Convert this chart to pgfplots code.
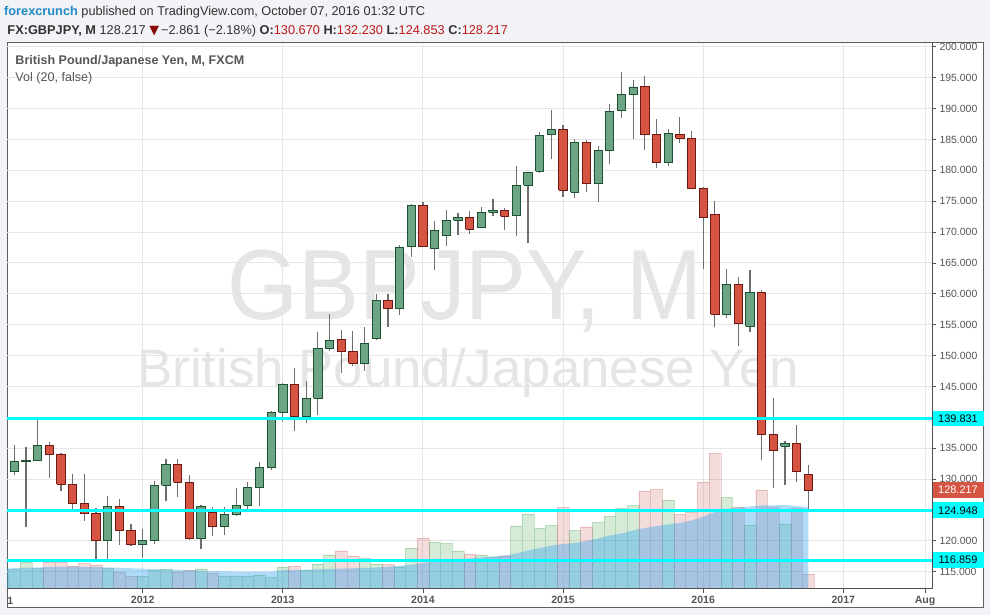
\documentclass[border=0pt]{standalone}
\usepackage{pgfplots}
\pgfplotsset{compat=1.18}
\usepackage{pgfplotstable}
\usepackage{fontspec}
\setmainfont{Liberation Sans}
\newfontfamily\dejavu{DejaVu Sans}

\definecolor{bgc}{RGB}{241,243,246}
\definecolor{framec}{RGB}{95,95,95}
\definecolor{axc}{RGB}{80,80,80}
\definecolor{gridc}{RGB}{230,230,230}
\definecolor{tickc}{RGB}{85,85,85}
\definecolor{hdrc}{RGB}{50,50,50}
\definecolor{fcblue}{RGB}{33,138,199}
\definecolor{valr}{RGB}{190,25,25}
\definecolor{tri}{RGB}{140,10,10}
\definecolor{wmc}{RGB}{229,229,229}
\definecolor{ttc}{RGB}{85,85,85}
\definecolor{upf}{RGB}{107,165,131}
\definecolor{upb}{RGB}{30,80,50}
\definecolor{dnf}{RGB}{214,84,66}
\definecolor{dnb}{RGB}{110,25,20}
\definecolor{wickc}{RGB}{110,110,110}
\definecolor{cyanc}{RGB}{0,255,255}
\definecolor{vg}{RGB}{80,170,90}
\definecolor{vr}{RGB}{200,100,100}
\definecolor{mac}{RGB}{40,160,240}

\pgfplotstableread{
m O H L C
1 131.25 135.5 130.6 132.9
2 132.85 135.2 122.25 133.0
3 133.0 139.55 132.9 135.5
4 135.5 136.0 130.2 134.0
5 134.0 134.3 128.1 129.15
6 129.15 130.8 125.15 126.05
7 126.05 130.8 123.25 124.45
8 124.45 125.25 116.95 120.0
9 120.0 127.25 116.95 125.55
10 125.55 126.75 119.3 121.65
11 121.65 122.75 119.15 119.35
12 119.35 121.9 117.25 120.05
13 120.05 129.75 119.55 129.0
14 129.0 133.3 126.5 132.4
15 132.4 133.2 127.15 129.45
16 129.45 130.65 120.15 120.35
17 120.35 125.75 118.7 125.55
18 124.55 125.45 120.75 122.25
19 122.25 125.45 120.95 124.25
20 124.25 128.6 123.95 125.75
21 125.75 129.55 125.15 128.6
22 128.6 132.75 125.65 131.9
23 131.9 141.0 131.4 140.8
24 140.8 145.5 139.45 145.35
25 145.35 147.95 137.8 140.1
26 140.1 145.85 139.1 143.05
27 143.05 153.85 140.4 151.15
28 151.15 156.7 150.75 152.45
29 152.65 154.15 147.15 150.7
30 150.7 153.95 148.35 148.75
31 148.75 154.65 147.55 151.95
32 152.85 159.9 152.45 158.9
33 158.9 159.9 154.7 157.6
34 157.6 167.9 156.55 167.55
35 167.6 174.6 165.9 174.35
36 174.35 174.95 167.55 167.6
37 167.3 171.75 163.85 170.25
38 169.45 173.55 167.75 171.9
39 171.9 173.05 169.45 172.35
40 172.35 173.4 169.65 170.45
41 170.75 174.1 170.6 173.2
42 173.2 175.35 172.65 173.55
43 173.55 173.85 170.35 172.55
44 172.7 180.7 169.35 177.55
45 177.55 179.7 168.15 179.65
46 179.85 186.2 179.6 185.7
47 185.8 189.8 181.8 186.65
48 186.65 187.3 175.7 176.75
49 176.45 185.0 175.55 184.5
50 184.5 184.85 176.55 177.9
51 177.9 184.0 174.95 183.2
52 183.2 190.8 181.1 189.55
53 189.7 195.88 188.5 192.3
54 192.3 194.65 185.0 193.5
55 193.65 195.3 183.35 185.8
56 185.8 188.3 180.45 181.3
57 181.3 186.65 180.75 186.0
58 185.8 188.7 184.4 185.2
59 185.2 186.4 177.05 177.1
60 177.1 177.35 163.95 172.35
61 172.85 175.05 154.65 156.7
62 156.7 163.95 156.15 161.55
63 161.55 162.7 151.6 155.2
64 154.75 163.85 153.75 160.2
65 160.2 160.6 133.1 137.25
66 137.25 143.1 128.6 134.65
67 135.3 136.15 129.1 135.8
68 135.8 138.75 129.6 131.25
69 130.670 132.230 124.853 128.217
}\ohlc

\pgfplotstableread{
m v
1 19.7
2 27.3
3 20.7
9 20.7
12 13
13 18.7
14 20
17 20.3
19 13
20 13
21 13
22 14
23 11.7
24 22
26 18.7
27 25
28 34
31 30.7
32 25
34 22.3
35 41
37 47
38 45.7
39 38
41 34
42 32.3
44 63
45 75
46 61
47 63.7
49 58.7
51 66.7
52 72.7
53 80.7
54 83.7
57 89
62 91.7
64 64
67 65
}\volg

\pgfplotstableread{
m v
4 27.3
5 27.3
6 23
7 25.7
8 24
10 17
11 13
15 17
16 18.7
18 15.7
25 23
29 38
30 33
33 24.7
36 51
40 35
43 33.3
48 81.7
50 62
55 98
56 99.7
58 74.7
59 76.7
60 107
61 136
63 81.7
65 99
66 81.7
68 80.7
69 15
}\volr

\pgfplotstableread{
m ma
0.38 20.5
1 20.8
2 21.2
3 21.6
4 22.0
5 22.3
6 22.3
7 22.2
8 22.0
9 21.6
10 21.2
11 20.8
12 20.3
13 19.9
14 19.5
15 19.1
16 18.7
17 18.3
18 18.0
19 17.7
20 17.5
21 17.3
22 17.3
23 17.5
24 18.7
25 19.0
26 19.3
27 19.6
28 20.0
29 20.4
30 20.7
31 21.0
32 21.5
33 22.3
34 23.3
35 24.3
36 26
37 27.3
38 28.7
39 29.7
40 30.3
41 31.5
42 32.3
43 33.5
44 35.3
45 38.5
46 41
47 43.3
48 45
49 46
50 48
51 50.5
52 53.5
53 55.5
54 58.5
55 61
56 63
57 64.5
58 66
59 68.5
60 72.3
61 77
62 80
63 81.5
64 82.5
65 83.5
66 83.7
67 84
68 83
69 81.7
}\vma

\pgfplotsset{
  base/.style={scale only axis, width=925bp, height=546bp, at={(7bp,26bp)}, anchor=south west,
    xmin=0.379, xmax=79.595},
}

\begin{document}
\begin{tikzpicture}
\fill[bgc] (0bp,0bp) rectangle (990bp,615bp);
\filldraw[fill=white, draw=framec, line width=1bp] (7bp,7bp) rectangle (983bp,572bp);
% header
\node[anchor=base west, inner sep=0, text=hdrc, font=\fontsize{12.8}{14}\selectfont] at (4bp,599bp)
  {{\color{fcblue}\bfseries forexcrunch} published on TradingView.com, October 07, 2016 01:32 UTC};
\node[anchor=base west, inner sep=0, text=hdrc, font=\fontsize{12.8}{14}\selectfont] at (7.3bp,580.7bp)
  {\textbf{FX:GBPJPY, M}\ 128.217 {\dejavu\color{tri}▼}\,−2.861 (−2.18\%) \textbf{O:}{\color{valr}130.670} \textbf{H:}{\color{valr}132.230} \textbf{L:}{\color{valr}124.853} \textbf{C:}{\color{valr}128.217}};
% watermark
\node[anchor=base, inner sep=0, text=wmc, font=\fontsize{100}{100}\selectfont] at (465bp,295bp) {\scalebox{0.915}[1]{GBPJPY, M}};
\node[anchor=base, inner sep=0, text=wmc, font=\fontsize{53}{53}\selectfont] at (468bp,228bp) {British Pound/Japanese Yen};

% grid and ticks
\begin{axis}[base, ymin=112.2, ymax=200.62,
  axis line style={draw=none},
  xtick={12,24,36,48,60,72,79}, xticklabels={2012,2013,2014,2015,2016,2017,Aug},
  ytick={115,120,...,200},
  xtick pos=bottom, ytick pos=right, yticklabel pos=right,
  tick align=outside, major tick length=4bp,
  tick style={draw=axc, line width=0.8bp},
  grid=major, grid style={draw=gridc, line width=0.9bp},
  y tick label style={/pgf/number format/fixed, /pgf/number format/fixed zerofill,
     /pgf/number format/precision=3, /pgf/number format/1000 sep={},
     /pgf/number format/assume math mode=true,
     font=\fontsize{10.5}{12}\selectfont, text=tickc, anchor=west},
  x tick label style={font=\bfseries\fontsize{10.6}{12}\selectfont, text=tickc},
]
\addplot[draw=none] coordinates {(1,150)};
\end{axis}

% volume
\begin{axis}[base, ymin=0, ymax=546, hide axis]
\addplot[ybar, bar width=1, bar shift=0, fill=vg, fill opacity=0.24, draw=vg, draw opacity=0.3] table[x=m,y=v]{\volg};
\addplot[ybar, bar width=1, bar shift=0, fill=vr, fill opacity=0.22, draw=vr, draw opacity=0.3] table[x=m,y=v]{\volr};
\addplot[draw=none, fill=mac, fill opacity=0.37] table[x=m,y=ma]{\vma} \closedcycle;
\end{axis}

% candles
\begin{axis}[base, ymin=112.2, ymax=200.62, hide axis]
\pgfplotsinvokeforeach{0,...,68}{%
  \pgfplotstablegetelem{#1}{m}\of\ohlc\edef\cm{\pgfplotsretval}%
  \pgfplotstablegetelem{#1}{O}\of\ohlc\edef\co{\pgfplotsretval}%
  \pgfplotstablegetelem{#1}{H}\of\ohlc\edef\ch{\pgfplotsretval}%
  \pgfplotstablegetelem{#1}{L}\of\ohlc\edef\cl{\pgfplotsretval}%
  \pgfplotstablegetelem{#1}{C}\of\ohlc\edef\cc{\pgfplotsretval}%
  \pgfmathsetmacro\lo{min(\co,\cc)}%
  \pgfmathsetmacro\hi{max(\co,\cc)}%
  \pgfmathsetmacro\xa{\cm-0.355}%
  \pgfmathsetmacro\xb{\cm+0.355}%
  \pgfmathparse{\cc>\co}%
  \ifdim\pgfmathresult pt>0.5pt \def\bc{upb}\def\fc{upf}\else\def\bc{dnb}\def\fc{dnf}\fi
  \edef\doit{%
    \noexpand\addplot[draw=wickc, line width=1.2bp, mark=none] coordinates {(\cm,\cl) (\cm,\ch)};%
    \noexpand\addplot[draw=\bc, fill=\fc, line width=0.9bp, mark=none, line join=miter] coordinates {(\xa,\lo) (\xb,\lo) (\xb,\hi) (\xa,\hi) (\xa,\lo)};%
  }%
  \doit
}
\addplot[cyanc, line width=2.6bp, mark=none] coordinates {(0.379,139.831) (79.595,139.831)};
\addplot[cyanc, line width=2.6bp, mark=none] coordinates {(0.379,124.948) (79.595,124.948)};
\addplot[cyanc, line width=2.6bp, mark=none] coordinates {(0.379,116.859) (79.595,116.859)};
\end{axis}

% price labels on the right
\node[fill=cyanc, anchor=west, minimum width=51bp, minimum height=15.7bp, inner sep=0, text=black, font=\fontsize{11}{12}\selectfont] at (932.3bp,196.6bp) {139.831};
\node[fill=cyanc, anchor=west, minimum width=51bp, minimum height=15.7bp, inner sep=0, text=black, font=\fontsize{11}{12}\selectfont] at (932.3bp,104.7bp) {124.948};
\node[fill=cyanc, anchor=west, minimum width=51bp, minimum height=15.7bp, inner sep=0, text=black, font=\fontsize{11}{12}\selectfont] at (932.3bp,54.8bp) {116.859};
\node[fill=dnf, anchor=west, minimum width=51bp, minimum height=15.3bp, inner sep=0, text=white, font=\fontsize{11}{12}\selectfont] at (932.3bp,124.9bp) {128.217};

% axis lines
\draw[axc, line width=1bp] (932bp,26bp) -- (932bp,572bp);
\draw[axc, line width=1bp] (7bp,26bp) -- (932bp,26bp);
% inner titles
\node[anchor=base west, inner sep=0, text=ttc, font=\bfseries\fontsize{12.6}{13}\selectfont] at (15.3bp,550bp) {British Pound/Japanese Yen, M, FXCM};
\node[anchor=base west, inner sep=0, text=ttc, font=\fontsize{12.6}{13}\selectfont] at (15.3bp,533.7bp) {Vol (20, false)};
\node[anchor=base west, inner sep=0, text=tickc, font=\bfseries\fontsize{10.6}{12}\selectfont] at (7.3bp,11bp) {1};
\pgfresetboundingbox
\useasboundingbox (0bp,0bp) rectangle (990bp,615bp);
\end{tikzpicture}
\end{document}
